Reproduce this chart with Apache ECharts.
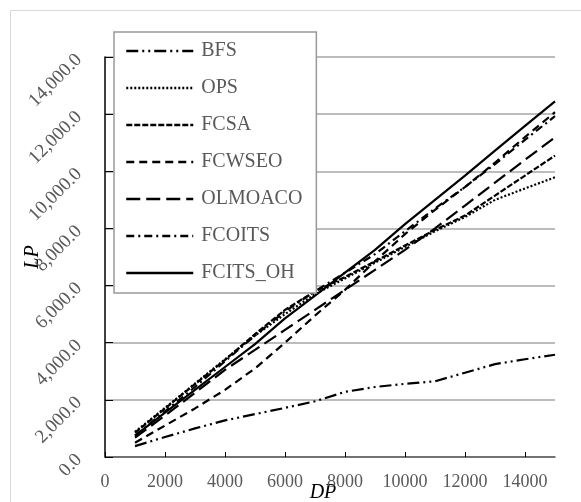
<!DOCTYPE html>
<html>
<head>
<meta charset="utf-8">
<script src="https://cdn.jsdelivr.net/npm/echarts@6/dist/echarts.min.js"></script>
<style>
html,body{margin:0;padding:0;background:#fff;}
#chart{width:581px;height:502px;}
</style>
</head>
<body>
<div id="chart"></div>
<script>
const dp = [1000,2000,3000,4000,5000,6000,7000,8000,9000,10000,11000,12000,13000,14000,15000];
const seriesNames = ['BFS','OPS','FCSA','FCWSEO','OLMOACO','FCOITS','FCITS_OH'];
const BFS      = [380,700,1000,1280,1500,1720,1950,2280,2450,2560,2650,2950,3250,3420,3580];
const OPS      = [880,1720,2570,3420,4250,5000,5700,6250,6800,7350,7900,8400,9000,9400,9790];
const FCSA     = [850,1700,2550,3400,4300,5150,5800,6300,6850,7400,7950,8450,9150,9850,10550];
const FCWSEO   = [500,1100,1700,2350,3100,4000,4950,5850,6850,7800,8650,9450,10300,11200,12070];
const OLMOACO  = [680,1450,2250,3050,3750,4450,5150,5850,6550,7250,8000,8800,9600,10400,11190];
const FCOITS   = [750,1600,2450,3350,4250,5100,5800,6450,7100,7900,8700,9450,10250,11100,11930];
const FCITS_OH = [750,1550,2350,3150,3950,4850,5650,6450,7250,8150,9000,9850,10720,11590,12450];
const allValues = [BFS,OPS,FCSA,FCWSEO,OLMOACO,FCOITS,FCITS_OH];
const dashes = [[12,4,2,4,2,4],[2,2],[6,2],[8,5],[14,6],[8,4,2,4],'solid'];

const font = 'Liberation Serif, Times New Roman, serif';
const chart = echarts.init(document.getElementById('chart'));
const series = seriesNames.map((n,i)=>({
  name:n, type:'line', symbol:'none', showSymbol:false, smooth:false,
  data: dp.map((x,j)=>[x, allValues[i][j]]),
  lineStyle:{color:'#000', width:2.2, type:dashes[i]},
  itemStyle:{color:'#000'}
}));
chart.setOption({
  animation:false,
  backgroundColor:'#fff',
  graphic:[{type:'rect', shape:{x:10.5,y:10.5,width:700,height:700}, style:{fill:'none', stroke:'#d9d9d9', lineWidth:1}, z:-1}],
  grid:{left:105, right:26, top:57, bottom:45, containLabel:false, outerBoundsMode:'none'},
  legend:{
    orient:'vertical', left:114, top:32,
    backgroundColor:'#fff', borderColor:'#999', borderWidth:1.5,
    padding:[9,14,10,11], itemGap:17, itemWidth:67, itemHeight:20,
    itemStyle:{opacity:0, borderWidth:0},
    lineStyle:{width:2.5},
    textStyle:{fontFamily:font, fontSize:20, color:'#595959', padding:[0,0,0,3]},
    data:seriesNames
  },
  xAxis:{
    type:'value', min:0, max:15000, interval:2000,
    name:'DP', nameLocation:'middle', nameGap:26, nameMoveOverlap:false,
    nameTextStyle:{fontFamily:font, fontSize:20, fontStyle:'italic', color:'#000', padding:[0,14,0,0]},
    axisLine:{lineStyle:{color:'#595959', width:1.5}},
    axisTick:{inside:true, length:5, lineStyle:{color:'#000'}},
    axisLabel:{fontFamily:font, fontSize:18, color:'#595959', margin:16, showMaxLabel:false, formatter:v=>String(v)},
    splitLine:{show:false}
  },
  yAxis:{
    type:'value', min:0, max:14000, interval:2000,
    name:'LP', nameLocation:'middle', nameGap:62, nameRotate:90, nameMoveOverlap:false,
    nameTextStyle:{fontFamily:font, fontSize:20, fontStyle:'italic', color:'#000'},
    axisLine:{show:true, lineStyle:{color:'#000', width:1.5}},
    axisTick:{show:true, inside:true, length:8, lineStyle:{color:'#000'}},
    axisLabel:{fontFamily:font, fontSize:19, color:'#595959', rotate:45, margin:26,
      formatter:v=>v.toLocaleString('en-US',{minimumFractionDigits:1, maximumFractionDigits:1})},
    splitLine:{lineStyle:{color:'#a6a6a6', width:1.5}}
  },
  series:series
});
</script>
</body>
</html>
